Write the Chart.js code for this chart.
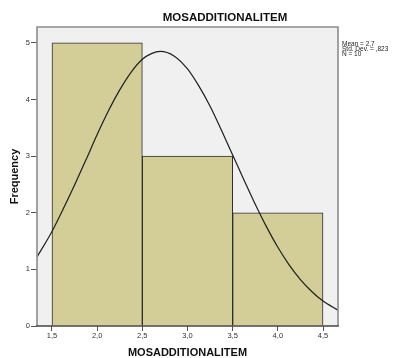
<!DOCTYPE html>
<html>
<head>
<meta charset="utf-8">
<script src="https://cdn.jsdelivr.net/npm/chart.js@4"></script>
<style>
  html, body { margin: 0; padding: 0; background: #ffffff; }
  #wrap { width: 400px; height: 358px; }
</style>
</head>
<body>
<div id="wrap"><canvas id="c" width="400" height="358"></canvas></div>
<script>
// Histogram bins (centres) and counts
const binCenters = [2, 3, 4];
const binCounts = [5, 3, 2];

// Fitted normal curve, sampled along the x axis
const curveX = [1.334, 1.5, 1.625, 1.75, 1.875, 2.0, 2.125, 2.25, 2.375, 2.5, 2.6, 2.7, 2.85, 3.0, 3.125, 3.25, 3.375, 3.5, 3.625, 3.75, 3.875, 4.0, 4.125, 4.25, 4.375, 4.5, 4.666];
const curveY = [1.22, 1.67, 2.07, 2.49, 2.93, 3.38, 3.80, 4.17, 4.48, 4.71, 4.81, 4.85, 4.77, 4.54, 4.24, 3.88, 3.46, 3.02, 2.58, 2.15, 1.75, 1.39, 1.08, 0.82, 0.61, 0.44, 0.28];

// Axis ticks
const xTickValues = [1.5, 2.0, 2.5, 3.0, 3.5, 4.0, 4.5];
const yTickValues = [0, 1, 2, 3, 4, 5];

// Summary statistics
const statMean = '2,7';
const statStdDev = ',823';
const statN = 10;

const titleText = 'MOSADDITIONALITEM';
const xTitle = 'MOSADDITIONALITEM';
const yTitle = 'Frequency';

const FONT = '"Liberation Sans", Arial, sans-serif';

const frameAndText = {
  id: 'frameAndText',
  beforeDatasetsDraw(chart) {
    const { ctx, chartArea: a } = chart;
    ctx.save();
    ctx.fillStyle = '#f0f0f0';
    ctx.fillRect(a.left, a.top, a.right - a.left, a.bottom - a.top);
    ctx.restore();
  },
  afterDatasetsDraw(chart) {
    const { ctx, chartArea: a } = chart;
    ctx.save();
    ctx.strokeStyle = '#8c8c8c';
    ctx.lineWidth = 1.6;
    ctx.beginPath();
    ctx.moveTo(a.left, a.bottom);
    ctx.lineTo(a.left, a.top);
    ctx.lineTo(a.right, a.top);
    ctx.lineTo(a.right, a.bottom);
    ctx.stroke();
    ctx.strokeStyle = '#444444';
    ctx.lineWidth = 1.4;
    ctx.beginPath();
    ctx.moveTo(a.left - 0.8, a.bottom);
    ctx.lineTo(a.right + 0.8, a.bottom);
    ctx.stroke();

    // chart title
    ctx.fillStyle = '#111111';
    ctx.font = 'bold 11.5px ' + FONT;
    ctx.textAlign = 'center';
    ctx.textBaseline = 'middle';
    ctx.fillText(titleText, 225, 18);

    // statistics box
    ctx.fillStyle = '#222222';
    ctx.font = '6.5px ' + FONT;
    ctx.textAlign = 'left';
    ctx.textBaseline = 'middle';
    const sx = a.right + 4;
    ctx.fillText('Mean = ' + statMean, sx, 44.5);
    ctx.fillText('Std. Dev. = ' + statStdDev, sx, 49.5);
    ctx.fillText('N = ' + statN, sx, 54.5);
    ctx.restore();
  }
};

const fmtComma = v => Number(v).toFixed(1).replace('.', ',');

new Chart(document.getElementById('c'), {
  type: 'bar',
  data: {
    datasets: [
      {
        type: 'line',
        order: 0,
        data: curveX.map((x, i) => ({ x: x, y: curveY[i] })),
        borderColor: '#1e1e1e',
        borderWidth: 1.2,
        pointRadius: 0,
        fill: false,
        cubicInterpolationMode: 'monotone'
      },
      {
        type: 'bar',
        order: 1,
        data: binCenters.map((x, i) => ({ x: x, y: binCounts[i] })),
        backgroundColor: '#d3ce98',
        borderColor: '#2e2e2e',
        borderWidth: 1,
        barThickness: 'flex',
        barPercentage: 1,
        categoryPercentage: 1
      }
    ]
  },
  plugins: [frameAndText],
  options: {
    responsive: false,
    animation: false,
    devicePixelRatio: 1,
    layout: { padding: { top: 27, right: 62, left: 0, bottom: 0 } },
    plugins: {
      legend: { display: false },
      tooltip: { enabled: false },
      title: { display: false }
    },
    scales: {
      x: {
        type: 'linear',
        offset: false,
        min: 1.334,
        max: 4.666,
        afterBuildTicks: s => { s.ticks = xTickValues.map(v => ({ value: v })); },
        afterFit: s => { s.height = 32; },
        border: { display: false },
        grid: { offset: false, drawOnChartArea: false, drawTicks: true, tickLength: 5, color: '#555555', lineWidth: 1 },
        ticks: {
          callback: v => fmtComma(v),
          font: { family: FONT, size: 7.5 },
          color: '#333333',
          padding: 0,
          maxRotation: 0,
          autoSkip: false
        },
        title: {
          display: true,
          text: xTitle,
          font: { family: FONT, size: 11, weight: 'bold', lineHeight: 1 },
          color: '#111111',
          padding: { top: 0, bottom: 0 }
        }
      },
      y: {
        min: 0,
        max: 5.28,
        afterBuildTicks: s => { s.ticks = yTickValues.map(v => ({ value: v })); },
        afterFit: s => { s.width = 37; },
        border: { display: false },
        grid: { drawOnChartArea: false, drawTicks: true, tickLength: 6, color: '#555555', lineWidth: 1 },
        ticks: {
          font: { family: FONT, size: 7.5 },
          color: '#333333',
          padding: 1
        },
        title: {
          display: true,
          text: yTitle,
          font: { family: FONT, size: 11, weight: 'bold', lineHeight: 1.2 },
          color: '#111111',
          padding: { top: 8, bottom: 0 }
        }
      }
    }
  }
});
</script>
</body>
</html>
